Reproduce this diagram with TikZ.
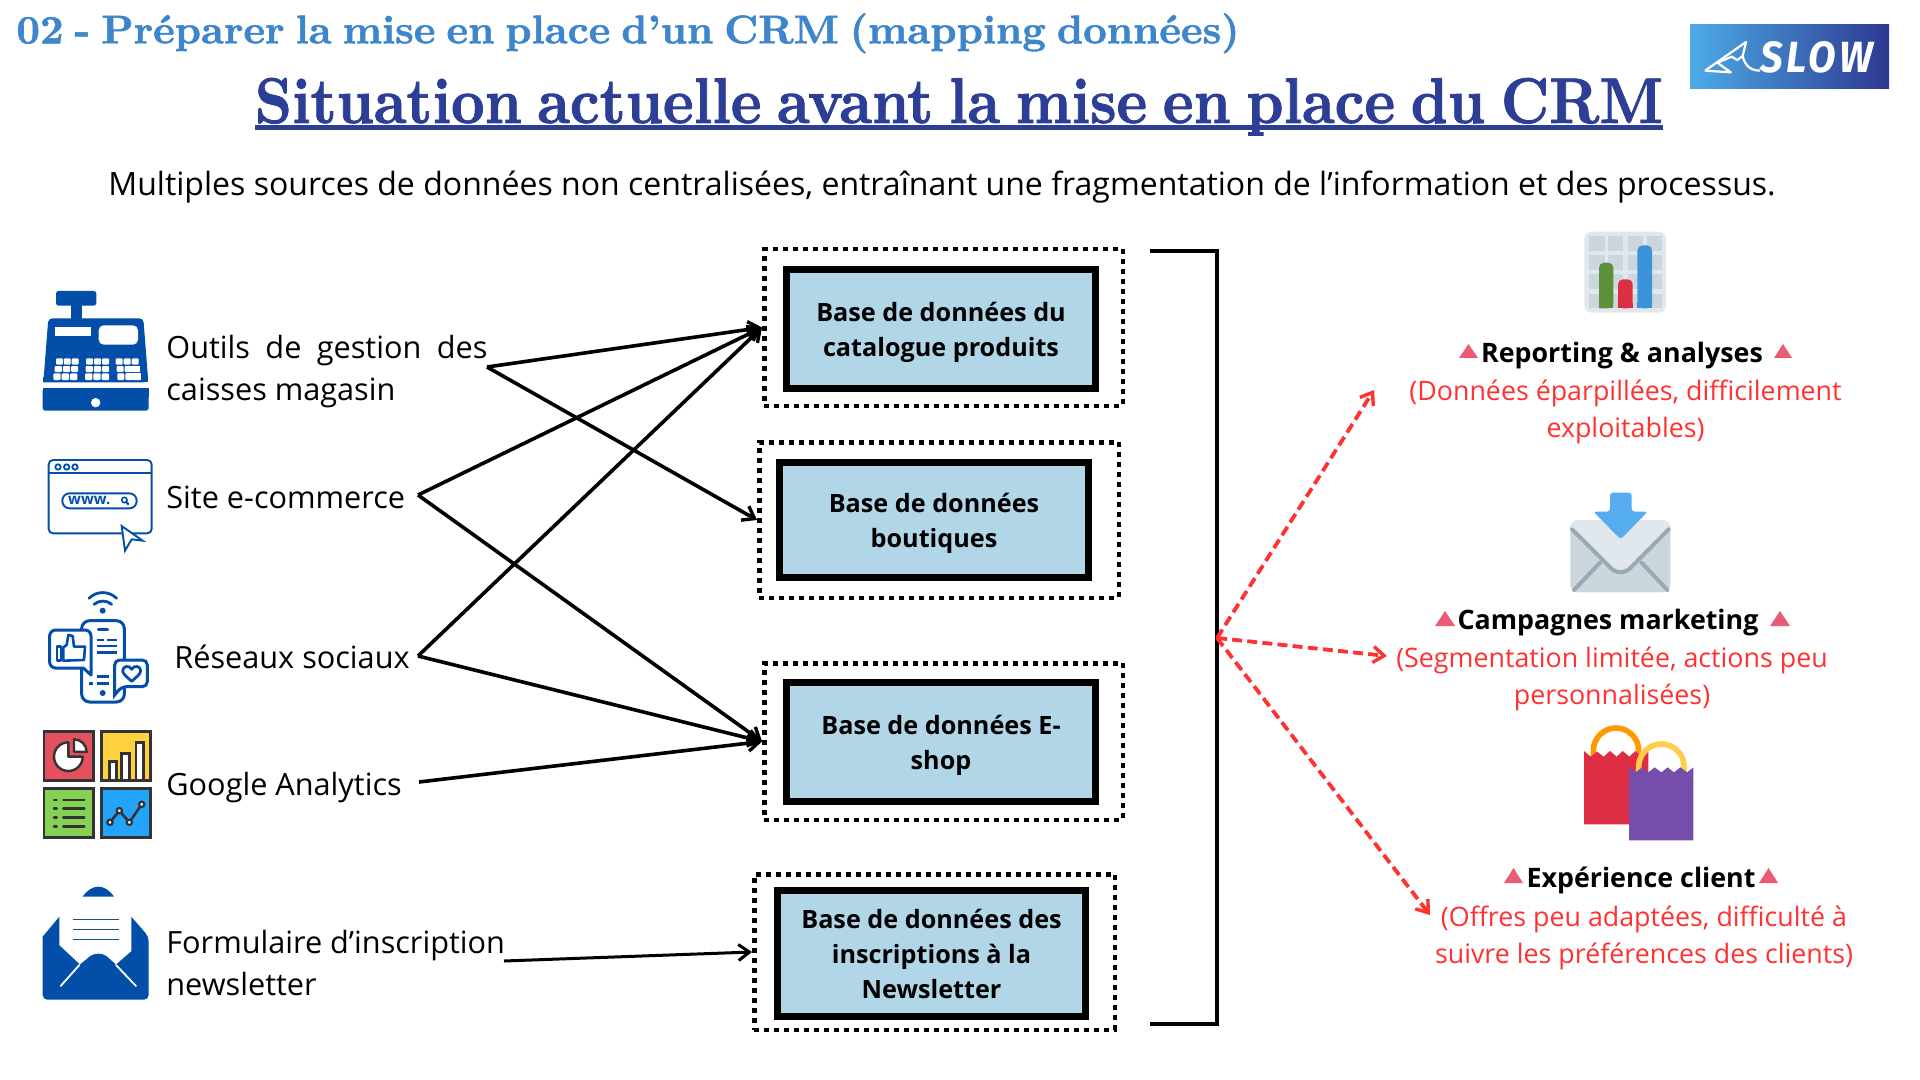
\documentclass[tikz,border=0pt]{standalone}
\usepackage{fontspec}
\usetikzlibrary{arrows.meta,calc}
\newfontfamily\osfont{Open Sans}
\newfontfamily\firafont{Fira Sans}[LetterSpace=9]
\newfontfamily\titlefont{Latin Modern Roman}[BoldFeatures={FakeBold=1.3},WordSpace=0.7]
\definecolor{iconblue}{HTML}{034EA9}
\definecolor{subtitleblue}{HTML}{3E86CB}
\definecolor{titleblue}{HTML}{2D3E96}
\definecolor{boxblue}{HTML}{B0D6E8}
\definecolor{redline}{HTML}{FF3131}
\definecolor{trired}{HTML}{EA5C75}
\definecolor{darkgrey}{HTML}{333333}
\definecolor{logoleft}{HTML}{4DABE6}
\definecolor{logoright}{HTML}{2D3890}
\definecolor{tilered}{HTML}{E5505F}
\definecolor{tileyellow}{HTML}{FFD040}
\definecolor{tilegreen}{HTML}{84D155}
\definecolor{tileblue}{HTML}{24A3FB}
\definecolor{papernavy}{HTML}{1F4E79}
\definecolor{greylight}{HTML}{E1E8ED}
\definecolor{greymid}{HTML}{CCD6DD}
\definecolor{greydark}{HTML}{99AAB5}
\definecolor{bargreen}{HTML}{5C913B}
\definecolor{barred}{HTML}{DD2E44}
\definecolor{barblue}{HTML}{3B94D9}
\definecolor{arrowblue}{HTML}{55ACEE}
\definecolor{handleorange}{HTML}{FF9800}
\definecolor{handleyellow}{HTML}{FFCC4D}
\definecolor{bagpurple}{HTML}{744EAA}
\newcommand{\upx}{0.5pt}
\newcommand{\zu}{0.166667pt}
\newcommand{\toppad}{\rule{0pt}{12.6pt}}
\tikzset{
  x=0.5pt,y=-0.5pt,
  every node/.style={inner sep=0pt,font=\osfont},
  dbbox/.style={draw=black,fill=boxblue,line width=3.35pt,align=center,font=\osfont\fontsize{12.6}{17.5}\selectfont\bfseries},
  dotbox/.style={draw=black,line width=2.25pt,dash pattern=on 2.5pt off 2.5pt},
  srclabel/.style={anchor=west,align=left,font=\osfont\fontsize{15.33}{21}\selectfont,text=black},
  headlabel/.style={font=\osfont\fontsize{13.4}{18}\selectfont\bfseries,text=black},
  notelabel/.style={align=center,font=\osfont\fontsize{13.4}{18.5}\selectfont,text=redline},
  flow/.style={draw=black,line width=1.8pt,-{Straight Barb[length=5.5pt,width=8pt,line width=1.7pt]}},
  flowthin/.style={draw=black,line width=1.5pt,-{Straight Barb[length=5.5pt,width=8pt,line width=1.5pt]}},
  impact/.style={draw=redline,line width=1.9pt,dash pattern=on 5pt off 2.6pt,-{Straight Barb[length=5.5pt,width=8pt,line width=1.7pt]}},
  zoomed/.style={x=\zu,y=-\zu},
  tri/.style={fill=trired,draw=none},
}
\begin{document}
\begin{tikzpicture}
\useasboundingbox (0,0) rectangle (1920,1080);
\fill[white] (0,0) rectangle (1920,1080);

% titles
\node[text=subtitleblue,anchor=base] (subtitle) at (628,43.3) {\resizebox{611.5pt}{15pt}{\titlefont\bfseries 02 - Préparer la mise en place d’un CRM (mapping données)}};
\node[text=titleblue,anchor=base] (title) at (959,123) {\resizebox{704pt}{22.5pt}{\titlefont\bfseries Situation actuelle avant la mise en place du CRM}};
\fill[titleblue] (255,125.5) rectangle (1663,130.5);
\node[font=\osfont\fontsize{16.02}{20}\selectfont,text=black] (lead) at (942,187) {Multiples sources de données non centralisées, entraînant une fragmentation de l’information et des processus.};

% logo
\shade[left color=logoleft,right color=logoright] (1690,25) rectangle (1889,89);
\begin{scope}[shift={(1660,0)},zoomed]
\draw[white,line width=1.1pt,line join=round] (135,212)--(258,126)--(248,168) .. controls (255,200) and (275,212) .. (300,212);
\draw[white,line width=1.1pt,line join=round] (135,212)--(212,217)--(172,188)--(215,170)--(232,180)--(248,168);
\node[text=white] (slow) at (470,172) {\resizebox{56.5pt}{15.5pt}{\firafont\bfseries\itshape SLOW}};
\end{scope}

% source labels
\node[srclabel] (caisse) at (166,372) {\makebox[160.5pt][s]{Outils de gestion des}\\caisses magasin};
\node[srclabel] (site) at (166,497.5) {Site e-commerce};
\node[srclabel] (reseaux) at (174,657) {Réseaux sociaux};
\node[srclabel] (google) at (166,787.5) {Google Analytics};
\node[srclabel] (newsl) at (166,962.5) {Formulaire d’inscription\\newsletter};

% databases
\node[dotbox,minimum width=358.5*\upx,minimum height=156.5*\upx] (d1) at (943.5,327.5) {};
\node[dotbox,minimum width=359.5*\upx,minimum height=155.5*\upx] (d2) at (939,520) {};
\node[dotbox,minimum width=358.5*\upx,minimum height=156.5*\upx] (d3) at (943.5,741.5) {};
\node[dotbox,minimum width=360.5*\upx,minimum height=155.5*\upx] (d4) at (934.5,952) {};
\node[dbbox,minimum width=309.3*\upx,minimum height=119.3*\upx] (b1) at (941,329) {\toppad Base de données du\\catalogue produits};
\node[dbbox,minimum width=309.3*\upx,minimum height=115.3*\upx] (b2) at (934,520) {\toppad Base de données\\boutiques};
\node[dbbox,minimum width=309.3*\upx,minimum height=119.3*\upx] (b3) at (941,742) {\toppad Base de données E-\\shop};
\node[dbbox,minimum width=308.3*\upx,minimum height=126.3*\upx] (b4) at (931.5,953.5) {Base de données des\\inscriptions à la\\Newsletter};

% connector ends
\coordinate (s1) at (487,367);
\coordinate (s2) at (418,495);
\coordinate (s3) at (418,656);
\coordinate (s4) at (419,782);
\coordinate (s5) at (504,961);
\coordinate (hub) at (1217,638);
\coordinate (bt) at (1150,251);
\coordinate (btc) at (1217,251);
\coordinate (bb) at (1150,1024);
\coordinate (bbc) at (1217,1024);
\coordinate (r1) at (1374,390);
\coordinate (r2) at (1387,656);
\coordinate (r3) at (1430,915);

\draw[flow] (s1) -- (d1.west);
\draw[flow] (s1) -- (d2.west);
\draw[flow] (s2) -- (d1.west);
\draw[flow] (s2) -- (d3.west);
\draw[flow] (s3) -- (d1.west);
\draw[flow] (s3) -- (d3.west);
\draw[flow] (s4) -- (d3.west);
\draw[flowthin] (s5) -- (d4.west);

% bracket
\draw[black,line width=1.75pt,miter limit=10] (bt) -- (btc) -- (bbc) -- (bb);

% impact arrows
\draw[impact] (hub) -- (r1);
\draw[impact] (hub) -- (r2);
\draw[impact] (hub) -- (r3);

% right labels
\node[headlabel] (h1) at (1622,355.5) {Reporting \& analyses};
\node[notelabel] (n1) at (1625.5,412) {(Données éparpillées, difficilement\\exploitables)};
\node[headlabel] (h2) at (1608,622.5) {Campagnes marketing};
\node[notelabel] (n2) at (1612,678.5) {(Segmentation limitée, actions peu\\personnalisées)};
\node[headlabel] (h3) at (1641,880.5) {Expérience client};
\node[notelabel] (n3) at (1644,937.5) {(Offres peu adaptées, difficulté à\\suivre les préférences des clients)};
\fill[tri] (1459,358) -- (1468.5,344) -- (1478,358) -- cycle;
\fill[tri] (1774,358) -- (1783,344) -- (1792,358) -- cycle;
\fill[tri] (1435,626) -- (1445,611) -- (1455,626) -- cycle;
\fill[tri] (1770,626) -- (1780,611) -- (1790,626) -- cycle;
\fill[tri] (1504,883) -- (1513.5,868) -- (1523,883) -- cycle;
\fill[tri] (1759,883) -- (1768.5,868) -- (1778,883) -- cycle;

% cash register
\begin{scope}[shift={(0,270)},zoomed]
\fill[iconblue,rounded corners=1.3pt] (168,63) rectangle (289,107);
\fill[iconblue] (214,100) rectangle (245,150);
\fill[iconblue,rounded corners=2pt] (130,337) -- (145,145) -- (430,145) -- (445,337) [sharp corners] -- cycle;
\fill[iconblue] (130,320) rectangle (445,337);
\fill[white] (166,170) rectangle (272,199);
\fill[white,rounded corners=2.5pt] (296,166) rectangle (414,224);
\foreach \xs/\w/\ya/\yb in {168/20.5/265/284,164/21.5/288/306,160/22/310/330,258/21/265/284,257/21.5/288/306,255/22/310/330,347/21/265/284,350/21/288/306,352/21/310/330}{
  \foreach \c in {0,1,2}{
    \fill[white,rounded corners=0.5pt] ({\xs+\c*(\w+3)},\ya) rectangle ({\xs+\c*(\w+3)+\w},\yb);
  }
}
\fill[white] (376,288) rectangle (421,306);
\fill[white] (378,310) rectangle (424,330);
\fill[iconblue,rounded corners=1.3pt] (128,355) -- (446,355) -- (446,422) -- (128,422) -- cycle;
\fill[iconblue] (128,355) rectangle (446,380);
\fill[white] (287,398) circle (14);
\end{scope}

% browser
\begin{scope}[shift={(0,270)},zoomed]
\draw[iconblue,line width=0.95pt,rounded corners=2.2pt] (146,570) rectangle (455,790);
\draw[iconblue,line width=0.95pt] (146,608) -- (455,608);
\foreach \cx in {174,200,225}{\draw[iconblue,line width=0.9pt] (\cx,591) circle (8);}
\draw[iconblue,line width=0.95pt,rounded corners=3.6pt] (187,670) rectangle (410,715);
\node[text=iconblue,font=\osfont\fontsize{7.5}{8}\selectfont\bfseries] (www) at (268,692) {www.};
\draw[iconblue,line width=0.8pt] (373,690) circle (8);
\draw[iconblue,line width=1.1pt] (379,696) -- (386,704);
\draw[iconblue,fill=white,line width=0.95pt,line join=miter] (365,768) -- (428,812) -- (395,808) -- (375,842) -- cycle;
\end{scope}

% social
\begin{scope}[shift={(0,570)},zoomed]
\draw[iconblue,line width=1.4pt,line cap=round] (267,85) .. controls (290,62) and (326,62) .. (350,85);
\draw[iconblue,line width=1.4pt,line cap=round] (282,103) .. controls (298,90) and (320,90) .. (335,103);
\fill[iconblue] (308,122) circle (9);
\draw[iconblue,line width=1.5pt,rounded corners=4pt] (245,152) rectangle (373,396);
\draw[iconblue,line width=1.5pt,line cap=round] (295,178) -- (323,178);
\draw[iconblue,line width=1.3pt] (292,210) -- (312,210) (322,210) -- (350,210) (292,228) -- (350,228) (292,248) -- (350,248);
\draw[iconblue,line width=1.3pt] (292,320) -- (328,320) (268,340) -- (278,340) (292,340) -- (328,340);
\fill[iconblue] (308,369) circle (9);
\draw[iconblue,fill=white,line width=1.5pt,line join=round,rounded corners=3pt] (149,180) -- (273,180) -- (273,250) [sharp corners] -- (273,315) -- (250,294) [rounded corners=3pt] -- (149,294) -- cycle;
\draw[iconblue,line width=1.3pt,line join=round] (171,230) rectangle (183,272);
\draw[iconblue,fill=white,line width=1.3pt,line join=round] (190,232) -- (200,225) -- (205,195) -- (218,198) -- (222,230) -- (255,230) -- (252,270) -- (190,272) -- cycle;
\draw[iconblue,fill=white,line width=1.5pt,rounded corners=2.5pt] (344,270) -- (442,270) -- (442,350) -- (365,350) [sharp corners] -- (344,375) [rounded corners=2.5pt] -- cycle;
\draw[iconblue,line width=1.4pt,line join=round] (395,334) .. controls (380,320) and (368,312) .. (368,302) .. controls (368,288) and (388,284) .. (395,298) .. controls (402,284) and (422,288) .. (422,302) .. controls (422,312) and (410,320) .. (395,334) -- cycle;
\end{scope}

% analytics
\begin{scope}[shift={(0,570)},zoomed]
\draw[darkgrey,fill=tilered,line width=1.3pt] (132,484) rectangle (280,632);
\draw[darkgrey,fill=tileyellow,line width=1.3pt] (304,484) rectangle (452,632);
\draw[darkgrey,fill=tilegreen,line width=1.3pt] (132,655) rectangle (280,803);
\draw[darkgrey,fill=tileblue,line width=1.3pt] (304,655) rectangle (452,803);
\draw[darkgrey,fill=white,line width=1.2pt,line join=round] (205,560) -- (205,517) arc[start angle=270,end angle=0,radius=43] -- cycle;
\draw[darkgrey,fill=white,line width=1.2pt,line join=round] (222,545) -- (222,508) arc[start angle=270,end angle=360,radius=38] -- cycle;
\draw[darkgrey,fill=white,line width=1.2pt] (328,628) -- (328,575) -- (350,575) -- (350,628);
\draw[darkgrey,fill=white,line width=1.2pt] (365,628) -- (365,550) -- (388,550) -- (388,628);
\draw[darkgrey,fill=white,line width=1.2pt] (408,628) -- (408,517) -- (430,517) -- (430,628);
\foreach \ly in {690,716,743,769}{
  \draw[darkgrey,line width=1.3pt,line cap=round] (162,\ly) -- (170,\ly);
  \draw[darkgrey,line width=1.3pt,line cap=round] (190,\ly) -- (253,\ly);
}
\draw[darkgrey,line width=1.3pt] (330,757) -- (358,722) -- (388,757) -- (425,703);
\foreach \ptx/\pty in {330/757,358/722,388/757,425/703}{\draw[darkgrey,fill=white,line width=1.1pt] (\ptx,\pty) circle (8);}
\end{scope}

% newsletter envelope
\begin{scope}[shift={(0,570)},zoomed]
\fill[iconblue,rounded corners=2.3pt] (128,1100) -- (128,1289) -- (446,1289) -- (446,1100) [sharp corners] -- (394,1040) -- (178,1040) -- cycle;
\fill[white] (178,980) -- (394,980) -- (394,1143) -- (348,1183) -- (320,1158) .. controls (305,1148) and (285,1148) .. (270,1158) -- (240,1183) -- (178,1125) -- cycle;
\fill[iconblue] (248,980) .. controls (275,940) and (315,940) .. (342,980) -- cycle;
\draw[white,line width=0.9pt,line cap=round] (182,1248) -- (238,1185) (408,1248) -- (348,1185);
\draw[papernavy,line width=0.8pt] (220,1048) -- (357,1048) (220,1079) -- (357,1079) (220,1109) -- (357,1109);
\end{scope}

% report chart
\begin{scope}[shift={(1500,210)},zoomed]
\fill[greylight,rounded corners=3.6pt] (253,65) rectangle (498,308);
\foreach \xa/\xb in {267/315,325/370,383/428,441/485}{
  \foreach \ya/\yb in {79/122,135/180,193/238,252/295}{
    \fill[greymid] (\xa,\ya) rectangle (\xb,\yb);
  }
}
\fill[bargreen,rounded corners=2.5pt] (297,295) -- (297,158) -- (340,158) -- (340,295) [sharp corners] -- cycle;
\fill[bargreen] (297,280) rectangle (340,295);
\fill[barred,rounded corners=2.5pt] (354,295) -- (354,208) -- (398,208) -- (398,295) -- cycle;
\fill[barred] (354,280) rectangle (398,295);
\fill[barblue,rounded corners=2.5pt] (412,295) -- (412,106) -- (456,106) -- (456,295) -- cycle;
\fill[barblue] (412,280) rectangle (456,295);
\end{scope}

% mail icon
\begin{scope}[shift={(1500,210)},zoomed]
\fill[greymid,rounded corners=4pt] (211,930) rectangle (511,1147);
\fill[greylight,rounded corners=4pt] (211,955) -- (211,930) -- (511,930) -- (511,955) [sharp corners] -- (395,1070) .. controls (375,1092) and (347,1092) .. (328,1070) -- cycle;
\draw[greydark,line width=2pt,line cap=round] (216,958) -- (328,1070) .. controls (347,1092) and (375,1092) .. (395,1070) -- (506,958);
\draw[greydark,line width=2pt,line cap=round] (222,1140) -- (300,1058) (502,1140) -- (425,1058);
\fill[arrowblue,rounded corners=1.5pt] (330,905) -- (330,848) -- (395,848) -- (395,905) -- (443,905) -- (362,988) -- (280,905) -- cycle;
\end{scope}

% shopping bags
\begin{scope}[shift={(1500,700)},zoomed]
\draw[handleorange,line width=2.8pt] (280,172) -- (280,152) arc[start angle=180,end angle=360,radius=68] -- (416,172);
\fill[barred] (252,153) -- (272,170) -- (291,155) -- (311,170) -- (330,153) -- (350,170) -- (368,153) -- (388,170) -- (406,153) -- (426,170) -- (445,155) -- (445,373) -- (252,373) -- cycle;
\draw[handleyellow,line width=2.8pt] (416,220) -- (416,200) arc[start angle=180,end angle=360,radius=68] -- (552,220);
\fill[bagpurple] (387,202) -- (407,217) -- (426,202) -- (445,217) -- (464,202) -- (484,217) -- (503,202) -- (522,217) -- (541,202) -- (561,217) -- (580,202) -- (580,421) -- (387,421) -- cycle;
\end{scope}
\end{tikzpicture}
\end{document}
